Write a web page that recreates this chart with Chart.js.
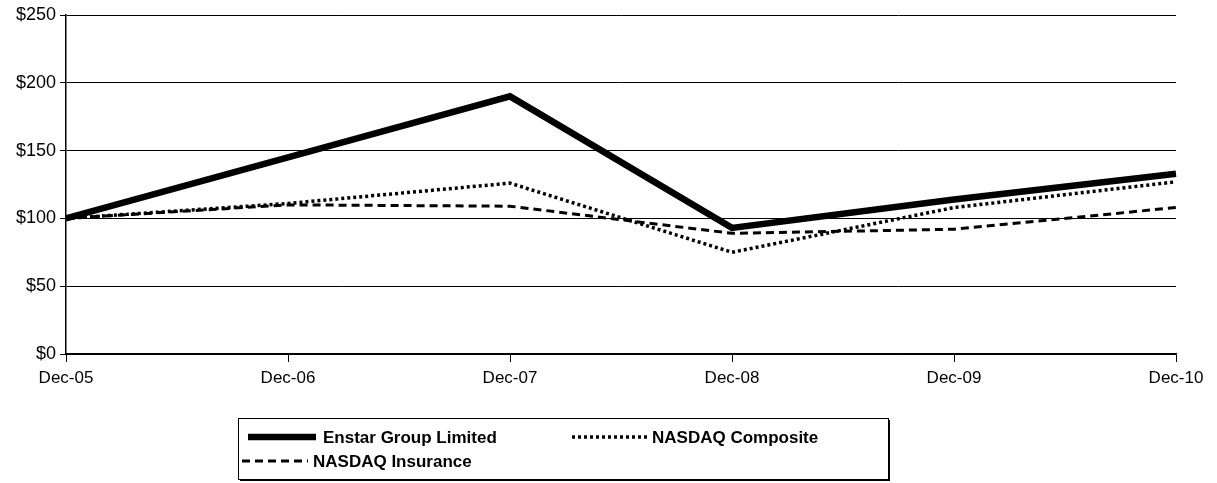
<!DOCTYPE html>
<html>
<head>
<meta charset="utf-8">
<script src="https://cdn.jsdelivr.net/npm/chart.js@4/dist/chart.umd.min.js"></script>
<style>
  html, body { margin: 0; padding: 0; background: #fff; }
  #wrap { width: 1217px; height: 483px; position: relative; }
</style>
</head>
<body>
<div id="wrap"><canvas id="perfChart" width="1217" height="483"></canvas></div>
<script>
const years = ['Dec-05', 'Dec-06', 'Dec-07', 'Dec-08', 'Dec-09', 'Dec-10'];
const enstar = [100, 145, 190, 93, 114, 133];
const nasdaqComposite = [100, 111, 126, 75, 108, 127];
const nasdaqInsurance = [100, 110, 109, 89, 92, 108];
const yTicks = [0, 50, 100, 150, 200, 250];

const font = "'Liberation Sans', Arial, Helvetica, sans-serif";

// Legend box drawn below the plot, styled from the datasets
const boxLegend = {
    id: 'boxLegend',
    afterDraw(chart) {
        const ctx = chart.ctx;
        const ds = chart.data.datasets;
        const box = { x: 238, y: 418, w: 650, h: 61 };
        ctx.save();
        ctx.fillStyle = '#000';
        ctx.fillRect(box.x + 2, box.y + box.h, box.w, 2);
        ctx.fillRect(box.x + box.w, box.y + 2, 2, box.h);
        ctx.strokeStyle = '#000';
        ctx.lineWidth = 1;
        ctx.strokeRect(box.x + 0.5, box.y + 0.5, box.w, box.h);

        const items = [
            { i: 0, x1: 248, x2: 316, tx: 323, y: 437 },
            { i: 1, x1: 572, x2: 648, tx: 652, y: 437 },
            { i: 2, x1: 242, x2: 308, tx: 313, y: 461 }
        ];
        ctx.font = 'bold 17px ' + font;
        ctx.textBaseline = 'middle';
        items.forEach(function(it) {
            const d = ds[it.i];
            ctx.beginPath();
            ctx.setLineDash(d.borderDash || []);
            ctx.lineWidth = d.borderWidth;
            ctx.strokeStyle = d.borderColor;
            ctx.lineCap = 'butt';
            ctx.moveTo(it.x1, it.y);
            ctx.lineTo(it.x2, it.y);
            ctx.stroke();
            ctx.setLineDash([]);
            ctx.fillStyle = '#000';
            ctx.fillText(d.label, it.tx, it.y + 1);
        });
        ctx.restore();
    }
};

const ctx = document.getElementById('perfChart').getContext('2d');
new Chart(ctx, {
    type: 'line',
    data: {
        labels: years,
        datasets: [{
            label: 'Enstar Group Limited',
            data: enstar,
            borderColor: '#000',
            borderWidth: 6.5,
            pointRadius: 0,
            tension: 0
        }, {
            label: 'NASDAQ Composite',
            data: nasdaqComposite,
            borderColor: '#000',
            borderWidth: 3.5,
            borderDash: [3, 3],
            pointRadius: 0,
            tension: 0
        }, {
            label: 'NASDAQ Insurance',
            data: nasdaqInsurance,
            borderColor: '#000',
            borderWidth: 3,
            borderDash: [8, 5],
            pointRadius: 0,
            tension: 0
        }]
    },
    options: {
        responsive: false,
        animation: false,
        layout: {
            padding: { top: 15, right: 41, left: 0, bottom: 0 }
        },
        plugins: {
            legend: { display: false },
            tooltip: { enabled: false }
        },
        scales: {
            x: {
                offset: false,
                grid: {
                    display: true,
                    drawOnChartArea: false,
                    drawTicks: true,
                    tickLength: 8,
                    color: '#000'
                },
                border: { display: true, color: '#000', width: 1.5 },
                ticks: {
                    color: '#000',
                    padding: 6,
                    maxRotation: 0,
                    autoSkip: false,
                    font: { family: font, size: 17 }
                },
                afterFit: function(scale) { scale.height = 129; }
            },
            y: {
                min: yTicks[0],
                max: yTicks[yTicks.length - 1],
                afterBuildTicks: function(scale) {
                    scale.ticks = yTicks.map(function(v) { return { value: v }; });
                },
                grid: {
                    color: '#000',
                    lineWidth: 1,
                    drawTicks: true,
                    tickLength: 6
                },
                border: { display: true, color: '#000', width: 1.5 },
                ticks: {
                    color: '#000',
                    padding: 4,
                    font: { family: font, size: 18 },
                    callback: function(v) { return '$' + v; }
                },
                afterFit: function(scale) { scale.width = 66; }
            }
        }
    },
    plugins: [boxLegend]
});
</script>
</body>
</html>
